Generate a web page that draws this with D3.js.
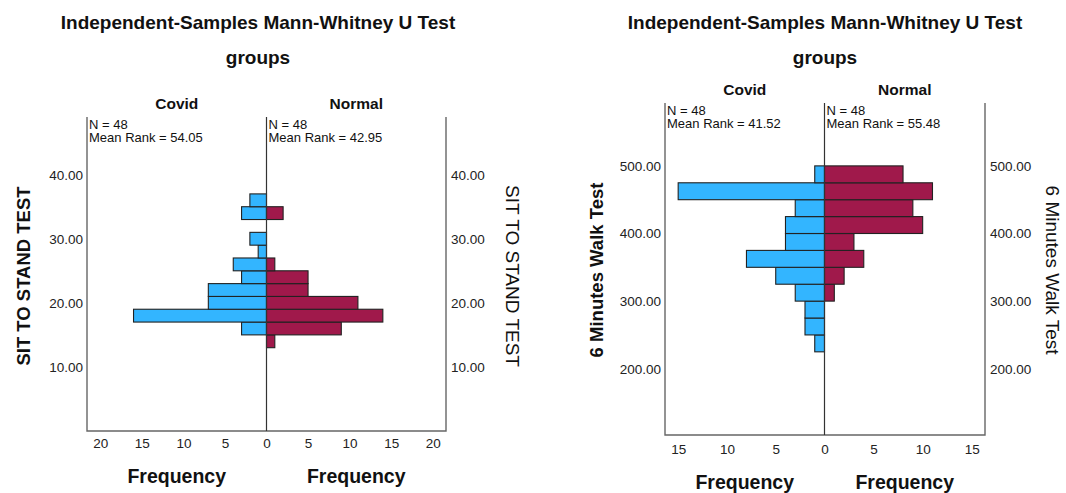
<!DOCTYPE html>
<html>
<head>
<meta charset="utf-8">
<script src="https://cdn.jsdelivr.net/npm/d3@7"></script>
<style>
  body { margin: 0; background: #fff; }
  text { font-family: "Liberation Sans", Arial, sans-serif; fill: #111; }
  .title { font-size: 19px; font-weight: bold; }
  .grp { font-size: 15.5px; font-weight: bold; }
  .stat { font-size: 13px; }
  .tick text { font-size: 13.5px; fill: #222; }
  .freq { font-size: 19.5px; font-weight: bold; }
  .ytitle { font-size: 18.5px; font-weight: bold; }
</style>
</head>
<body>
<div class="plots"></div>
<script>
// sit to stand test, bins of 2
var sitBinStarts = [13,15,17,19,21,23,25,27,29,31,33,35];
var sitCovid     = [0,3,16,7,7,3,4,1,2,0,3,2];
var sitNormal    = [1,9,14,11,5,5,1,0,0,0,2,0];
var sitYTicks = [10,20,30,40];
var sitXTicks = [0,5,10,15,20];

// 6 minutes walk test, bins of 25
var walkBinStarts = [225,250,275,300,325,350,375,400,425,450,475];
var walkCovid     = [1,2,2,3,5,8,4,4,3,15,1];
var walkNormal    = [0,0,0,1,2,4,3,10,9,11,8];
var walkYTicks = [200,300,400,500];
var walkXTicks = [0,5,10,15];

var groups = ["Covid", "Normal"];
var nText = ["N = 48", "N = 48"];
var sitRanks = ["Mean Rank = 54.05", "Mean Rank = 42.95"];
var walkRanks = ["Mean Rank = 41.52", "Mean Rank = 55.48"];

var width = 1066, height = 493;
var svg = d3.select(".plots").append("svg")
    .attr("width", width)
    .attr("height", height);

function drawPanel(o) {
  var g = svg.append("g");

  var y = d3.scaleLinear().domain(o.yDomain).range([o.bottom, o.top]);
  var xl = d3.scaleLinear().domain([0, o.xMax]).range([o.center, o.left]);
  var xr = d3.scaleLinear().domain([0, o.xMax]).range([o.center, o.right]);

  g.append("text").attr("class", "title")
    .attr("x", o.titleX).attr("y", 22).attr("dy", "0.35em")
    .attr("text-anchor", "middle").text("Independent-Samples Mann-Whitney U Test");
  g.append("text").attr("class", "title")
    .attr("x", o.titleX).attr("y", 57).attr("dy", "0.35em")
    .attr("text-anchor", "middle").text("groups");

  // group labels
  [xl, xr].forEach(function(sc, i) {
    g.append("text").attr("class", "grp")
      .attr("x", (sc.range()[0] + sc.range()[1]) / 2)
      .attr("y", o.grpY).attr("dy", "0.35em")
      .attr("text-anchor", "middle").text(groups[i]);
    var sx = (i == 0 ? o.left : o.center) + 2;
    g.append("text").attr("class", "stat").attr("x", sx).attr("y", o.top + 12).text(nText[i]);
    g.append("text").attr("class", "stat").attr("x", sx).attr("y", o.top + 25).text(o.ranks[i]);
  });

  // bars
  g.selectAll(".bl").data(o.covid).enter().append("rect")
    .attr("x", function(d) { return xl(d); })
    .attr("width", function(d) { return xl(0) - xl(d); })
    .attr("y", function(d, i) { return y(o.bins[i] + o.binW); })
    .attr("height", function(d, i) { return y(o.bins[i]) - y(o.bins[i] + o.binW); })
    .attr("fill", "#33b5ff")
    .attr("stroke", function(d) { return d > 0 ? "#222" : "none"; })
    .attr("stroke-width", 1.1);
  g.selectAll(".br").data(o.normal).enter().append("rect")
    .attr("x", xr(0))
    .attr("width", function(d) { return xr(d) - xr(0); })
    .attr("y", function(d, i) { return y(o.bins[i] + o.binW); })
    .attr("height", function(d, i) { return y(o.bins[i]) - y(o.bins[i] + o.binW); })
    .attr("fill", "#a0194b")
    .attr("stroke", function(d) { return d > 0 ? "#222" : "none"; })
    .attr("stroke-width", 1.1);

  // frame
  g.append("path")
    .attr("d", "M" + o.left + "," + o.top + "V" + o.bottom + "H" + o.right + "V" + o.top)
    .attr("fill", "none").attr("stroke", "#666").attr("stroke-width", 1.4);
  g.append("line")
    .attr("x1", o.center).attr("x2", o.center).attr("y1", o.top).attr("y2", o.bottom)
    .attr("stroke", "#333").attr("stroke-width", 1.2);

  // y axes both sides
  var ya = g.append("g").attr("transform", "translate(" + (o.left - 4) + ",0)")
    .call(d3.axisLeft(y).tickValues(o.yTicks).tickSize(0).tickFormat(d3.format(".2f")));
  var yb = g.append("g").attr("transform", "translate(" + (o.right + 5) + ",0)")
    .call(d3.axisRight(y).tickValues(o.yTicks).tickSize(0).tickFormat(d3.format(".2f")));
  ya.select(".domain").remove();
  yb.select(".domain").remove();
  ya.selectAll("text").attr("x", 0);
  yb.selectAll("text").attr("x", 0);

  // x axes
  var xa = g.append("g").attr("transform", "translate(0," + (o.bottom + o.xLabOff) + ")")
    .call(d3.axisBottom(xl).tickValues(o.xTicks).tickSize(0));
  var xb = g.append("g").attr("transform", "translate(0," + (o.bottom + o.xLabOff) + ")")
    .call(d3.axisBottom(xr).tickValues(o.xTicks.slice(1)).tickSize(0));
  xa.select(".domain").remove();
  xb.select(".domain").remove();
  xa.selectAll("text").attr("y", 0).attr("dy", "0.35em");
  xb.selectAll("text").attr("y", 0).attr("dy", "0.35em");

  [xl, xr].forEach(function(sc) {
    g.append("text").attr("class", "freq")
      .attr("x", (sc.range()[0] + sc.range()[1]) / 2)
      .attr("y", o.freqY).attr("dy", "0.35em")
      .attr("text-anchor", "middle").text("Frequency");
  });

  g.append("text").attr("class", "ytitle")
    .attr("transform", "translate(" + o.yTitleL + "," + o.yTitleY + ") rotate(-90)")
    .attr("text-anchor", "middle").attr("dy", "0.35em").text(o.yTitle);
  g.append("text").attr("class", "ytitle")
    .style("font-weight", "normal").style("font-size", "19px")
    .attr("transform", "translate(" + o.yTitleR + "," + o.yTitleY + ") rotate(90)")
    .attr("text-anchor", "middle").attr("dy", "0.35em").text(o.yTitle);
}

drawPanel({
  bins: sitBinStarts, binW: 2, covid: sitCovid, normal: sitNormal,
  yTicks: sitYTicks, xTicks: sitXTicks, ranks: sitRanks,
  yDomain: [0, 49], xMax: 21.6,
  left: 87, center: 266.5, right: 446, top: 117, bottom: 431,
  titleX: 258, grpY: 104, xLabOff: 12, freqY: 476,
  yTitle: "SIT TO STAND TEST", yTitleL: 24, yTitleR: 513, yTitleY: 276
});

drawPanel({
  bins: walkBinStarts, binW: 25, covid: walkCovid, normal: walkNormal,
  yTicks: walkYTicks, xTicks: walkXTicks, ranks: walkRanks,
  yDomain: [102, 593], xMax: 16.35,
  left: 665, center: 824.5, right: 985, top: 103, bottom: 435,
  titleX: 825, grpY: 90, xLabOff: 14, freqY: 482,
  yTitle: "6 Minutes Walk Test", yTitleL: 597, yTitleR: 1053, yTitleY: 270
});
</script>
</body>
</html>
